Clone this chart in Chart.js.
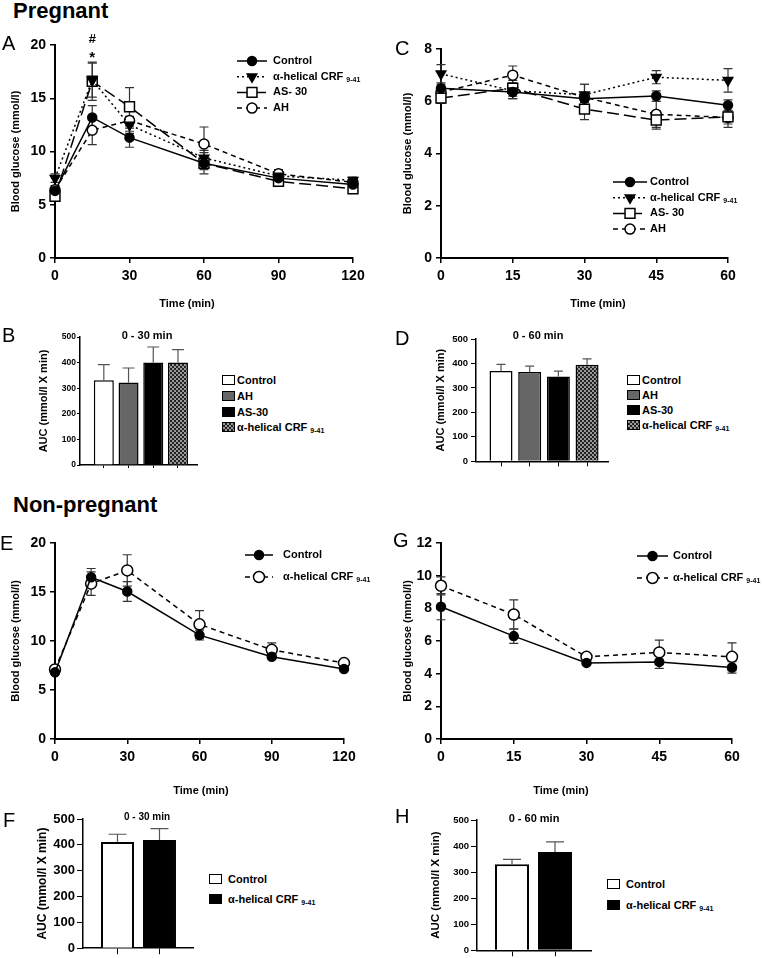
<!DOCTYPE html>
<html>
<head>
<meta charset="utf-8">
<script src="https://cdn.jsdelivr.net/npm/chart.js@4.4.0/dist/chart.umd.min.js"></script>
<style>
body { margin: 0; background: #fff; width: 762px; height: 958px; position: relative; overflow: hidden; font-family: "Liberation Sans", Arial, sans-serif; }
canvas { position: absolute; }
.txt { position: absolute; white-space: nowrap; line-height: 1; color: #000; }
.head { font-size: 22px; font-weight: bold; }
.letter { font-size: 20px; }
.mid { font-size: 11px; font-weight: bold; transform: translateX(-50%); }
.leg { position: absolute; display: flex; align-items: center; height: 12px; font-size: 11px; font-weight: bold; white-space: nowrap; }
.box { display: inline-block; width: 13px; height: 10px; border: 1.5px solid #000; box-sizing: border-box; }
.sub { font-size: 7px; position: relative; top: 3px; margin-left: 3px; }
.chk { background: repeating-conic-gradient(#222 0 25%, #999 0 50%) 0 0 / 4px 4px; }
</style>
</head>
<body>

<canvas id="chartA" width="380" height="285" style="left:0;top:30px"></canvas>
<canvas id="chartC" width="382" height="285" style="left:380px;top:30px"></canvas>
<canvas id="chartB" width="215" height="150" style="left:0;top:322px"></canvas>
<canvas id="chartD" width="235" height="148" style="left:390px;top:322px"></canvas>
<canvas id="chartE" width="380" height="275" style="left:0;top:525px"></canvas>
<canvas id="chartG" width="382" height="275" style="left:380px;top:525px"></canvas>
<canvas id="chartF" width="205" height="155" style="left:0;top:803px"></canvas>
<canvas id="chartH" width="215" height="155" style="left:390px;top:803px"></canvas>

<div class="txt head" style="left:13px;top:0">Pregnant</div>
<div class="txt head" style="left:13px;top:494px">Non-pregnant</div>

<div class="txt letter" style="left:2px;top:33px">A</div>
<div class="txt letter" style="left:395px;top:38px">C</div>
<div class="txt letter" style="left:2px;top:325px">B</div>
<div class="txt letter" style="left:395px;top:328px">D</div>
<div class="txt letter" style="left:0;top:533px">E</div>
<div class="txt letter" style="left:393px;top:530px">G</div>
<div class="txt letter" style="left:3px;top:810px">F</div>
<div class="txt letter" style="left:395px;top:806px">H</div>

<div class="txt mid" style="left:187px;top:298px">Time (min)</div>
<div class="txt mid" style="left:598px;top:298px">Time (min)</div>
<div class="txt mid" style="left:201px;top:785px">Time (min)</div>
<div class="txt mid" style="left:561px;top:785px">Time (min)</div>

<div class="txt mid" style="left:147px;top:330px">0 - 30 min</div>
<div class="txt mid" style="left:538px;top:330px">0 - 60 min</div>
<div class="txt mid" style="left:147px;top:812px;font-size:10px">0 - 30 min</div>
<div class="txt mid" style="left:534px;top:813px">0 - 60 min</div>

<div id="legB"></div>
<div id="legD"></div>
<div id="legF"></div>
<div id="legH"></div>

<script>
'use strict';

// Data (blood glucose in mmol/l, AUC in mmol/l X min)

var timeLong = [0, 15, 30, 60, 90, 120];
var timeShort = [0, 15, 30, 45, 60];
var xTicksLong = [0, 30, 60, 90, 120];
var xTicksShort = [0, 15, 30, 45, 60];

// Pregnant, 0 - 120 min (panel A)
var ctrlA = [6.3, 13.2, 11.3, 8.9, 7.5, 6.9];
var ctrlAErr = [0.3, 1.1, 0.9, 1.0, 0.4, 0.3];
var crfA = [7.5, 16.7, 12.5, 9.4, 7.7, 7.3];
var crfAErr = [0.4, 1.6, 0.8, 0.7, 0.4, 0.3];
var as30A = [5.8, 16.6, 14.2, 8.9, 7.2, 6.5];
var as30AErr = [0.4, 1.8, 1.8, 0.6, 0.4, 0.3];
var ahA = [6.4, 12.0, 12.9, 10.7, 7.9, 7.1];
var ahAErr = [0.4, 1.35, 1.0, 1.6, 0.4, 0.3];
var yTicksA = [0, 5, 10, 15, 20];

// Pregnant, 0 - 60 min (panel C)
var ctrlC = [6.5, 6.35, 6.1, 6.2, 5.85];
var ctrlCErr = [0.15, 0.25, 0.15, 0.2, 0.2];
var crfC = [7.05, 6.4, 6.25, 6.92, 6.8];
var crfCErr = [0.35, 0.3, 0.4, 0.25, 0.45];
var as30C = [6.12, 6.5, 5.7, 5.28, 5.4];
var as30CErr = [0.2, 0.3, 0.4, 0.35, 0.4];
var ahC = [6.35, 7.0, 6.15, 5.5, 5.38];
var ahCErr = [0.2, 0.35, 0.5, 0.5, 0.25];
var yTicksC = [0, 2, 4, 6, 8];

// Pregnant AUC (panels B, D)
var pregGroups = ['Control', 'AH', 'AS-30', 'α-helical CRF'];
var aucB = [331, 322, 400, 400];
var aucBErr = [61, 57, 61, 51];
var aucD = [369, 365, 347, 395];
var aucDErr = [27, 24, 22, 24];
var aucTicks = [0, 100, 200, 300, 400, 500];

// Non-pregnant (panels E, G)
var ctrlE = [6.8, 16.5, 15.05, 10.6, 8.4, 7.15];
var ctrlEErr = [0.2, 0.9, 1.0, 0.5, 0.2, 0.15];
var crfE = [7.1, 15.85, 17.2, 11.7, 9.1, 7.75];
var crfEErr = [0.2, 1.2, 1.6, 1.4, 0.7, 0.2];
var yTicksE = [0, 5, 10, 15, 20];

var ctrlG = [8.1, 6.3, 4.66, 4.72, 4.38];
var ctrlGErr = [0.8, 0.45, 0.1, 0.4, 0.35];
var crfG = [9.38, 7.62, 5.03, 5.3, 5.03];
var crfGErr = [0.55, 0.9, 0.1, 0.75, 0.85];
var yTicksG = [0, 2, 4, 6, 8, 10, 12];

// Non-pregnant AUC (panels F, H)
var npGroups = ['Control', 'α-helical CRF'];
var aucF = [411, 419];
var aucFErr = [30, 44];
var aucH = [330, 377];
var aucHErr = [19, 39];

var sigSymbols = ['#', '*'];
var sigTime = 15;

// Styles

var FONT = '"Liberation Sans", Arial, sans-serif';
Chart.defaults.font.family = FONT;
Chart.defaults.color = '#000';

var STYLE = {
  control: { pointStyle: 'circle', radius: 4.5, rotation: 0, fill: '#000', dash: [] },
  crf: { pointStyle: 'triangle', radius: 5.5, rotation: 180, fill: '#000', dash: [2, 3] },
  as30: { pointStyle: 'rect', radius: 7, rotation: 0, fill: '#fff', dash: [12, 5] },
  ah: { pointStyle: 'circle', radius: 5, rotation: 0, fill: '#fff', dash: [5, 4] },
  crfOpen: { pointStyle: 'circle', radius: 5.5, rotation: 0, fill: '#fff', dash: [5, 4] }
};

function checker() {
  var c = document.createElement('canvas');
  c.width = c.height = 4;
  var g = c.getContext('2d');
  g.fillStyle = '#999';
  g.fillRect(0, 0, 4, 4);
  g.fillStyle = '#222';
  g.fillRect(0, 0, 2, 2);
  g.fillRect(2, 2, 2, 2);
  return g.createPattern(c, 'repeat');
}

// Plugins

var errPlugin = {
  id: 'errBars',
  beforeDatasetsDraw: function(chart) {
    var ctx = chart.ctx;
    var ys = chart.scales.y;
    ctx.save();
    chart.data.datasets.forEach(function(ds, i) {
      if (!ds.err) return;
      var meta = chart.getDatasetMeta(i);
      ctx.strokeStyle = ds.errColor || '#333';
      ctx.lineWidth = 1.2;
      ctx.setLineDash([]);
      meta.data.forEach(function(el, j) {
        var v = ds.data[j].y;
        var cap = (ds.capWidth || 9) / 2;
        var top = ys.getPixelForValue(v + ds.err[j]);
        var bot = ds.errUp ? ys.getPixelForValue(v) : ys.getPixelForValue(v - ds.err[j]);
        ctx.beginPath();
        ctx.moveTo(el.x, top); ctx.lineTo(el.x, bot);
        ctx.moveTo(el.x - cap, top); ctx.lineTo(el.x + cap, top);
        if (!ds.errUp) { ctx.moveTo(el.x - cap, bot); ctx.lineTo(el.x + cap, bot); }
        ctx.stroke();
      });
    });
    ctx.restore();
  }
};

var keyPlugin = {
  id: 'seriesKey',
  afterDraw: function(chart, args, opts) {
    if (opts.x === undefined) return;
    var ctx = chart.ctx;
    ctx.save();
    chart.data.datasets.forEach(function(ds, i) {
      var y = opts.y + i * opts.dy;
      ctx.strokeStyle = '#000';
      ctx.lineWidth = 1.5;
      ctx.setLineDash(ds.borderDash);
      ctx.beginPath();
      ctx.moveTo(opts.x, y);
      ctx.lineTo(opts.x + opts.len, y);
      ctx.stroke();
      ctx.setLineDash([]);
      ctx.fillStyle = ds.pointBackgroundColor;
      Chart.helpers.drawPoint(ctx, {
        pointStyle: ds.pointStyle, radius: ds.pointRadius,
        rotation: ds.pointRotation, borderWidth: 1.5
      }, opts.x + opts.len / 2, y);
      ctx.fillStyle = '#000';
      ctx.textBaseline = 'middle';
      ctx.font = 'bold 11px ' + FONT;
      var tx = opts.x + opts.len + opts.gap;
      ctx.fillText(ds.label, tx, y);
      if (ds.sub) {
        var w = ctx.measureText(ds.label).width;
        ctx.font = 'bold 7px ' + FONT;
        ctx.fillText(ds.sub, tx + w + 3, y + 3);
      }
    });
    ctx.restore();
  }
};

var sigPlugin = {
  id: 'sigMarks',
  afterDatasetsDraw: function(chart, args, opts) {
    if (!opts.symbols) return;
    var ctx = chart.ctx;
    var x = chart.scales.x.getPixelForValue(opts.time);
    var top = chart.chartArea.top;
    ctx.save();
    ctx.fillStyle = '#000';
    ctx.textAlign = 'center';
    ctx.textBaseline = 'alphabetic';
    ctx.font = 'bold 13px ' + FONT;
    ctx.fillText(opts.symbols[0], x, top - 2);
    ctx.font = 'bold 15px ' + FONT;
    ctx.fillText(opts.symbols[1], x, top + 17);
    ctx.restore();
  }
};

// Helpers

function fixedTicks(values) {
  return function(scale) {
    scale.ticks = values.map(function(v) { return { value: v }; });
  };
}

function setWidth(w) { return function(scale) { scale.width = w; }; }
function setHeight(h) { return function(scale) { scale.height = h; }; }

function series(label, sub, times, vals, errs, st) {
  return {
    label: label, sub: sub, err: errs,
    data: times.map(function(t, i) { return { x: t, y: vals[i] }; }),
    borderColor: '#000', borderWidth: 1.5, borderDash: st.dash,
    pointStyle: st.pointStyle, pointRadius: st.radius, pointHoverRadius: st.radius,
    pointRotation: st.rotation, pointBackgroundColor: st.fill,
    pointBorderColor: '#000', pointBorderWidth: 1.5,
    tension: 0, clip: false
  };
}

function makeLine(id, o) {
  var axisGrid = { drawOnChartArea: false, tickLength: 5, color: '#000', lineWidth: 1.5 };
  var axisBorder = { color: '#000', width: 2 };
  var tickFont = { size: 14, weight: 'bold' };
  return new Chart(document.getElementById(id), {
    type: 'line',
    data: { datasets: o.sets },
    options: {
      responsive: false, animation: false, events: [],
      layout: { padding: { left: 0, top: o.padTop, right: o.padRight, bottom: 0 } },
      plugins: {
        legend: { display: false }, tooltip: { enabled: false },
        seriesKey: o.key, sigMarks: o.sig || {}
      },
      scales: {
        x: {
          type: 'linear', min: o.xTicks[0], max: o.xTicks[o.xTicks.length - 1],
          afterBuildTicks: fixedTicks(o.xTicks), afterFit: setHeight(o.xH),
          ticks: { font: tickFont, color: '#000', padding: 5, autoSkip: false, maxRotation: 0 },
          grid: axisGrid, border: axisBorder
        },
        y: {
          min: o.yTicks[0], max: o.yTicks[o.yTicks.length - 1],
          afterBuildTicks: fixedTicks(o.yTicks), afterFit: setWidth(o.yW),
          ticks: { font: tickFont, color: '#000', padding: 4, autoSkip: false },
          grid: axisGrid, border: axisBorder,
          title: {
            display: true, text: 'Blood glucose (mmol/l)', color: '#000',
            font: { size: 11, weight: 'bold' }, padding: { top: o.yTitlePad, bottom: 0 }
          }
        }
      }
    },
    plugins: [errPlugin, keyPlugin, sigPlugin]
  });
}

function makeBar(id, o) {
  var axisGrid = { drawOnChartArea: false, tickLength: o.tickLen, color: '#000', lineWidth: 1, offset: false };
  var axisBorder = { color: '#000', width: 1.5 };
  return new Chart(document.getElementById(id), {
    type: 'bar',
    data: {
      labels: o.groups,
      datasets: [{
        data: o.values.map(function(v, i) { return { x: i + 1, y: v }; }),
        err: o.errors, errUp: true, capWidth: o.cap, errColor: '#555',
        backgroundColor: o.colors, borderColor: '#000', borderWidth: o.bw,
        inflateAmount: 0, barThickness: o.barWidth
      }]
    },
    options: {
      responsive: false, animation: false, events: [],
      layout: { padding: { left: 0, top: o.padTop, right: o.padRight, bottom: 0 } },
      plugins: { legend: { display: false }, tooltip: { enabled: false } },
      scales: {
        x: {
          type: 'linear', min: o.xMin, max: o.xMax, offset: false,
          afterBuildTicks: fixedTicks(o.values.map(function(v, i) { return i + 1; })),
          afterFit: setHeight(o.xH),
          ticks: { display: false },
          grid: axisGrid, border: axisBorder
        },
        y: {
          min: 0, max: 500,
          afterBuildTicks: fixedTicks(aucTicks), afterFit: setWidth(o.yW),
          ticks: { font: { size: o.tickSize, weight: 'bold' }, color: '#000', padding: o.tickPad },
          grid: { drawOnChartArea: false, tickLength: o.tickLen, color: '#000', lineWidth: 1 },
          border: axisBorder,
          title: {
            display: true, text: 'AUC (mmol/l X min)', color: '#000',
            font: { size: o.titleSize, weight: 'bold' }, padding: { top: o.titlePad, bottom: 0 }
          }
        }
      }
    },
    plugins: [errPlugin]
  });
}

function htmlLegend(id, left, rows, groups, boxes, gap) {
  var holder = document.getElementById(id);
  groups.forEach(function(name, i) {
    var row = document.createElement('div');
    row.className = 'leg';
    row.style.left = left + 'px';
    row.style.top = (rows[i] - 6) + 'px';
    var box = document.createElement('span');
    box.className = 'box' + (boxes[i] === 'chk' ? ' chk' : '');
    if (boxes[i] !== 'chk') box.style.background = boxes[i];
    box.style.marginRight = gap + 'px';
    row.appendChild(box);
    row.appendChild(document.createTextNode(name));
    if (name.indexOf('CRF') >= 0) {
      var s = document.createElement('span');
      s.className = 'sub';
      s.textContent = '9-41';
      row.appendChild(s);
    }
    holder.appendChild(row);
  });
}

// Line charts

makeLine('chartA', {
  sets: [
    series('Control', '', timeLong, ctrlA, ctrlAErr, STYLE.control),
    series('α-helical CRF', '9-41', timeLong, crfA, crfAErr, STYLE.crf),
    series('AS- 30', '', timeLong, as30A, as30AErr, STYLE.as30),
    series('AH', '', timeLong, ahA, ahAErr, STYLE.ah)
  ],
  xTicks: xTicksLong, yTicks: yTicksA,
  padTop: 15, padRight: 27, yW: 55, xH: 57, yTitlePad: 9.4,
  key: { x: 237, y: 31, dy: 15.7, len: 30, gap: 6 },
  sig: { symbols: sigSymbols, time: sigTime }
});

makeLine('chartC', {
  sets: [
    series('Control', '', timeShort, ctrlC, ctrlCErr, STYLE.control),
    series('α-helical CRF', '9-41', timeShort, crfC, crfCErr, STYLE.crf),
    series('AS- 30', '', timeShort, as30C, as30CErr, STYLE.as30),
    series('AH', '', timeShort, ahC, ahCErr, STYLE.ah)
  ],
  xTicks: xTicksShort, yTicks: yTicksC,
  padTop: 19, padRight: 34, yW: 61, xH: 57, yTitlePad: 21.4,
  key: { x: 233, y: 152, dy: 15.7, len: 34, gap: 3 }
});

makeLine('chartE', {
  sets: [
    series('Control', '', timeLong, ctrlE, ctrlEErr, STYLE.control),
    series('α-helical CRF', '9-41', timeLong, crfE, crfEErr, STYLE.crfOpen)
  ],
  xTicks: xTicksLong, yTicks: yTicksE,
  padTop: 18, padRight: 36, yW: 55, xH: 61, yTitlePad: 9.4,
  key: { x: 245, y: 30, dy: 22, len: 28, gap: 10 }
});

makeLine('chartG', {
  sets: [
    series('Control', '', timeShort, ctrlG, ctrlGErr, STYLE.control),
    series('α-helical CRF', '9-41', timeShort, crfG, crfGErr, STYLE.crfOpen)
  ],
  xTicks: xTicksShort, yTicks: yTicksG,
  padTop: 18, padRight: 30, yW: 61, xH: 61, yTitlePad: 21.4,
  key: { x: 257, y: 31, dy: 22, len: 31, gap: 5 }
});

// Bar charts

var pattern = checker();
var pregColors = ['#fff', '#666', '#000', pattern];
var npColors = ['#fff', '#000'];

makeBar('chartB', {
  groups: pregGroups, values: aucB, errors: aucBErr, colors: pregColors,
  xMin: 0.036, xMax: 4.77, barWidth: 20, bw: 1.5, cap: 12,
  padTop: 15, padRight: 18, yW: 80, xH: 7,
  tickSize: 8.5, tickLen: 3, tickPad: 1, titleSize: 11, titlePad: 37.4
});

makeBar('chartD', {
  groups: pregGroups, values: aucD, errors: aucDErr, colors: pregColors,
  xMin: 0.128, xMax: 4.73, barWidth: 23, bw: 1.5, cap: 9,
  padTop: 17, padRight: 17, yW: 86, xH: 6,
  tickSize: 9.5, tickLen: 5, tickPad: 3, titleSize: 11, titlePad: 44.4
});

makeBar('chartF', {
  groups: npGroups, values: aucF, errors: aucFErr, colors: npColors,
  xMin: 0.179, xMax: 2.798, barWidth: 33, bw: 2, cap: 18,
  padTop: 16, padRight: 12, yW: 83, xH: 7,
  tickSize: 13, tickLen: 6, tickPad: 2, titleSize: 12, titlePad: 35.3
});

makeBar('chartH', {
  groups: npGroups, values: aucH, errors: aucHErr, colors: npColors,
  xMin: 0.186, xMax: 2.837, barWidth: 34, bw: 2, cap: 18,
  padTop: 17, padRight: 14, yW: 87, xH: 6,
  tickSize: 9.5, tickLen: 6, tickPad: 2, titleSize: 11.5, titlePad: 39
});

// Bar legends

htmlLegend('legB', 222, [380, 396, 412, 427], pregGroups, ['#fff', '#666', '#000', 'chk'], 2);
htmlLegend('legD', 627, [380, 395, 410, 425], pregGroups, ['#fff', '#666', '#000', 'chk'], 2);
htmlLegend('legF', 209, [879, 899], npGroups, ['#fff', '#000'], 6);
htmlLegend('legH', 607, [884, 905], npGroups, ['#fff', '#000'], 6);
</script>
</body>
</html>
